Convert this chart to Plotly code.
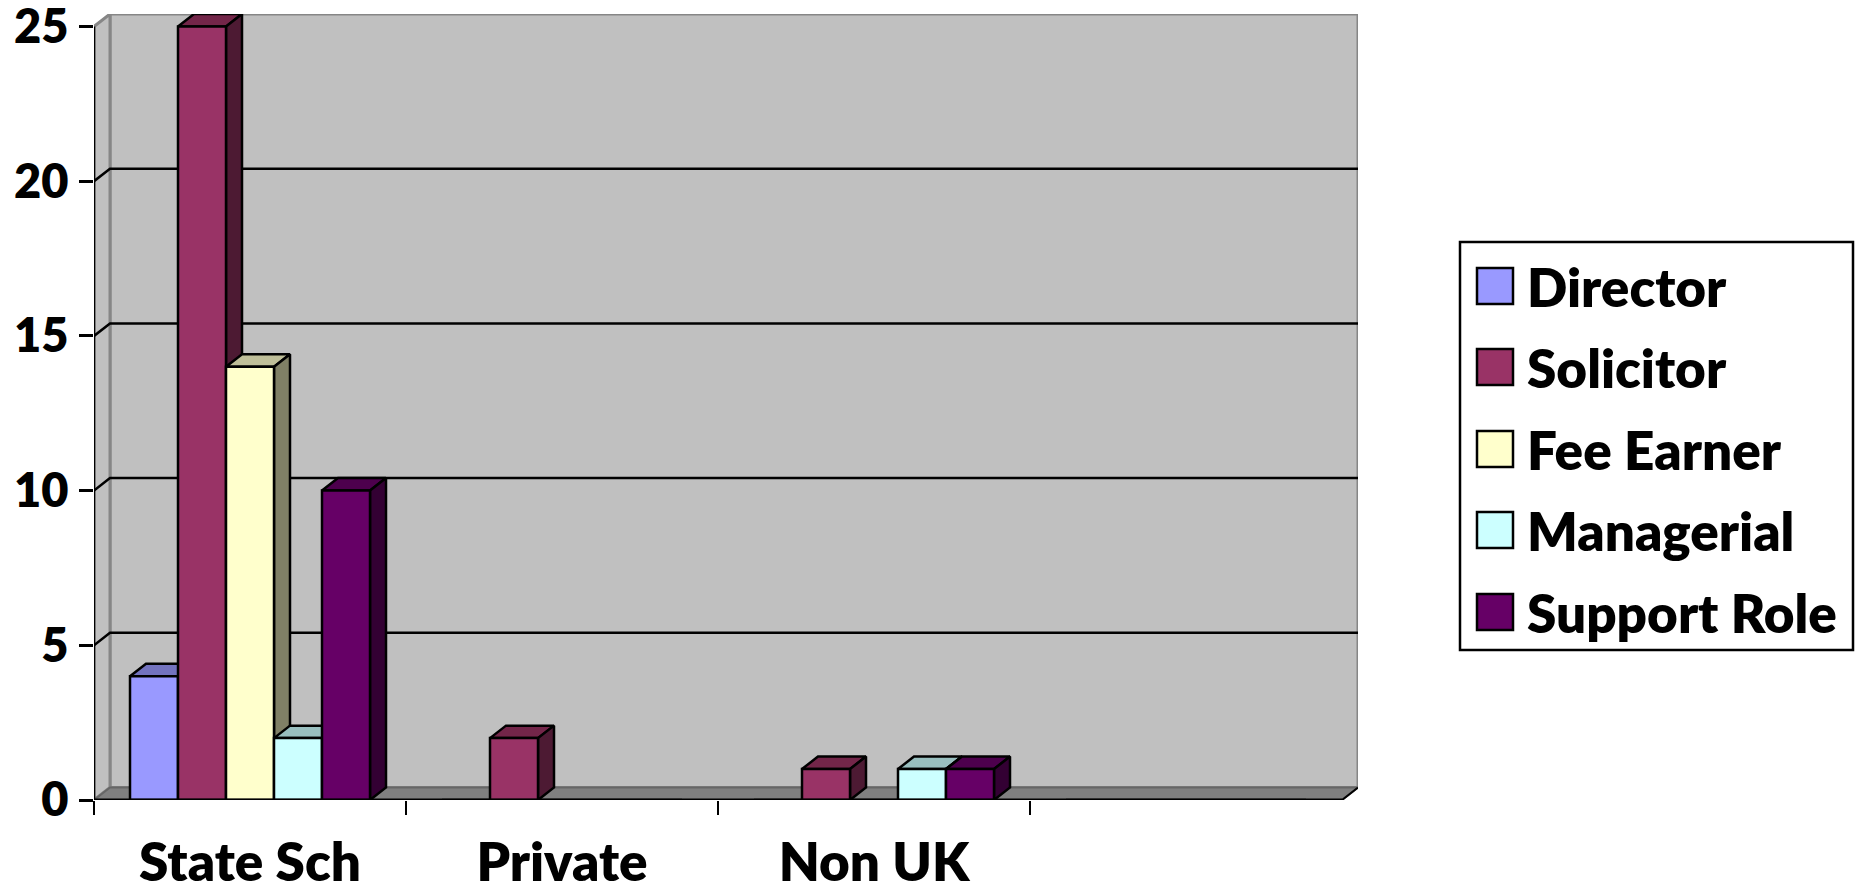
import plotly.graph_objects as go

categories = ["State Sch", "Private", "Non UK", ""]
positions = [0, 1, 2, 3]
series_names = ["Director", "Solicitor", "Fee Earner", "Managerial", "Support Role"]
director = [4, 0, 0, 0]
solicitor = [25, 2, 1, 0]
fee_earner = [14, 0, 0, 0]
managerial = [2, 0, 1, 0]
support_role = [10, 0, 1, 0]
series_values = [director, solicitor, fee_earner, managerial, support_role]

front_colors = ["#9999FF", "#993366", "#FFFFCC", "#CCFFFF", "#660066"]
top_colors = ["#7373BF", "#732649", "#BFBF99", "#99BFBF", "#4D004D"]
side_colors = ["#4D4D80", "#4D1A33", "#808066", "#668080", "#330033"]

W, H = 1865, 892
L, R, T, B = 94, 1358, 14, 800
X_UNIT = 312.0
Y_UNIT = 30.96
DX = 16 / X_UNIT
DY = 12.5 / Y_UNIT
X0, X1 = -0.5, 3.5
BARGAP = 0.2308
BW = (1 - BARGAP) / 5
LW = 2.5
FONT = dict(family="Lato", size=53, color="black", weight=800)
NUM_FONT = dict(family="Lato", size=47, color="black", weight=800)


def px(x):
    return (x - L) / (R - L)


def py(y):
    return (B - y) / (B - T)


def poly(xs, ys, fill, line="black", width=LW):
    return go.Scatter(
        x=xs + xs[:1], y=ys + ys[:1], mode="lines", fill="toself", fillcolor=fill,
        line=dict(color=line, width=width), hoverinfo="skip", showlegend=False,
        cliponaxis=False, xaxis="x", yaxis="y",
    )


def seg(xs, ys, color, width, axis="x", yaxis="y"):
    return go.Scatter(
        x=xs, y=ys, mode="lines", line=dict(color=color, width=width),
        hoverinfo="skip", showlegend=False, cliponaxis=False, xaxis=axis, yaxis=yaxis,
    )


fig = go.Figure()
TOP = 25
# back wall, side wall, floor
fig.add_trace(poly([X0 + DX, X1 + DX, X1 + DX, X0 + DX], [DY, DY, TOP + DY, TOP + DY], "#C0C0C0", "#868686", 3))
fig.add_trace(poly([X0, X0 + DX, X0 + DX, X0], [0, DY, TOP + DY, TOP], "#C0C0C0", "#868686", 3))
fig.add_trace(poly([X0, X1, X1 + DX, X0 + DX], [0, 0, DY, DY], "#808080", "#666666", 2))
for v in [5, 10, 15, 20]:
    fig.add_trace(seg([X0, X0 + DX, X1 + DX], [v, v + DY, v + DY], "black", 2.5))
fig.add_trace(seg([X0, X0], [0, TOP], "black", LW))

# depth faces of each column, left to right
for p in positions:
    for j, vals in enumerate(series_values):
        v = vals[p]
        if not v:
            continue
        xl = p + (j - 2.5) * BW
        xr = xl + BW
        fig.add_trace(poly([xl, xr, xr + DX, xl + DX], [v, v, v + DY, v + DY], top_colors[j]))
        fig.add_trace(poly([xr, xr + DX, xr + DX, xr], [0, DY, v + DY, v], side_colors[j]))

# front faces on an overlaid pair of axes so they sit above the depth faces
for j, vals in enumerate(series_values):
    fig.add_trace(go.Bar(
        x=positions, y=vals, name=series_names[j], xaxis="x2", yaxis="y2",
        marker=dict(color=front_colors[j], line=dict(color="black", width=LW)),
        cliponaxis=False, showlegend=False,
    ))
fig.add_trace(seg([X0, X1], [0, 0], "black", 3, "x2", "y2"))
fig.add_trace(seg([X1, X1 + DX], [0, DY], "black", 2, "x2", "y2"))

x_range = [X0, X1 + DX]
y_range = [0, TOP + DY]

# hand-built legend: plotly's own swatches cannot reach this size
LEG_BOX = (1460, 242, 1853, 650)
rows = [286, 367, 449, 530, 612]
shapes = [dict(type="rect", xref="paper", yref="paper", x0=px(LEG_BOX[0]), x1=px(LEG_BOX[2]),
               y0=py(LEG_BOX[1]), y1=py(LEG_BOX[3]), line=dict(color="black", width=2.5),
               fillcolor="white")]
annotations = []
for name, color, cy in zip(series_names, front_colors, rows):
    shapes.append(dict(type="rect", xref="paper", yref="paper", x0=px(1477), x1=px(1513),
                       y0=py(cy - 18), y1=py(cy + 18), line=dict(color="black", width=2.5),
                       fillcolor=color))
    annotations.append(dict(text=name, xref="paper", yref="paper", x=px(1525), y=py(cy),
                            xanchor="left", yanchor="middle", showarrow=False, font=FONT))

fig.update_layout(
    width=W, height=H, margin=dict(l=L, r=W - R, t=T, b=H - B),
    paper_bgcolor="white", plot_bgcolor="white", barmode="group", bargap=BARGAP, bargroupgap=0,
    showlegend=False, shapes=shapes, annotations=annotations, font=dict(family="Lato"),
    xaxis=dict(
        range=x_range, tickmode="array", tickvals=positions, ticktext=categories,
        ticks="", showgrid=False, zeroline=False, showline=False, tickfont=FONT,
        ticklabelstandoff=27, automargin=False, ticklabeloverflow="allow",
        minor=dict(tickmode="array", tickvals=[-0.5, 0.5, 1.5, 2.5], ticks="outside", ticklen=14,
                   tickwidth=2, tickcolor="black", showgrid=False),
    ),
    yaxis=dict(
        range=y_range, tickmode="array", tickvals=[0, 5, 10, 15, 20, 25], ticks="outside",
        ticklen=14, tickwidth=2.5, tickcolor="black", showgrid=False, zeroline=False,
        showline=False, tickfont=NUM_FONT, ticklabelstandoff=1, automargin=False,
        ticklabeloverflow="allow",
    ),
    xaxis2=dict(range=x_range, overlaying="x", visible=False, matches="x"),
    yaxis2=dict(range=y_range, overlaying="y", visible=False, matches="y"),
)

fig.write_html("out.html", config=dict(displayModeBar=False),
               post_script="document.body.style.margin='0';document.body.style.overflow='hidden';")
